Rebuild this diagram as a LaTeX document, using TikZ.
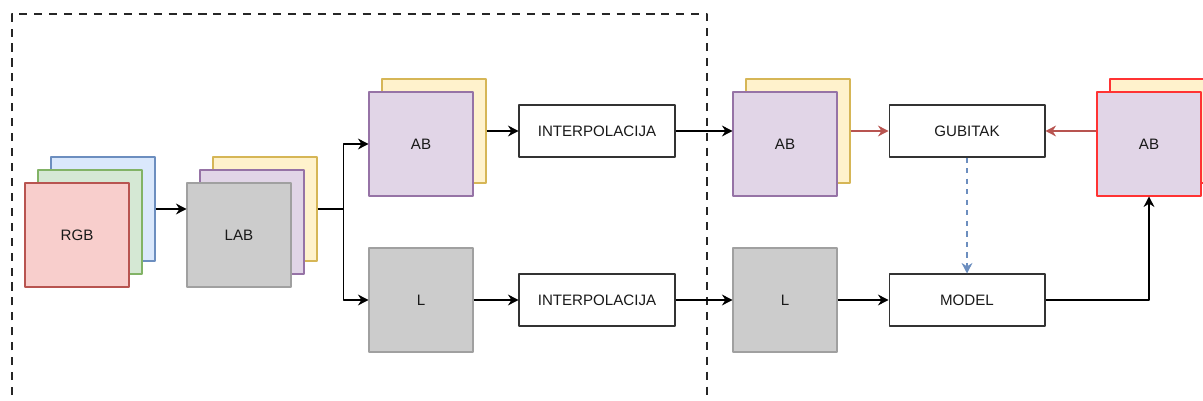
\documentclass[tikz,border=0pt]{standalone}
\usepackage{fontspec}
\setmainfont{Liberation Sans}
\usetikzlibrary{arrows.meta}
\definecolor{bluefill}{HTML}{DAE8FC}   \definecolor{bluedraw}{HTML}{6C8EBF}
\definecolor{greenfill}{HTML}{D5E8D4}  \definecolor{greendraw}{HTML}{82B366}
\definecolor{redfill}{HTML}{F8CECC}    \definecolor{reddraw}{HTML}{B85450}
\definecolor{yellowfill}{HTML}{FFF2CC} \definecolor{yellowdraw}{HTML}{D6B656}
\definecolor{purplefill}{HTML}{E1D5E7} \definecolor{purpledraw}{HTML}{9673A6}
\definecolor{grayfill}{HTML}{CCCCCC}   \definecolor{graydraw}{HTML}{A0A0A0}
\definecolor{brightred}{HTML}{FF3333}
\begin{document}
\begin{tikzpicture}[x=0.02cm,y=-0.02cm,>={Stealth[length=6pt,width=6.2pt,inset=2pt]},
	font=\fontsize{8.6}{10}\selectfont, line join=round, line width=0.6pt,
	sq/.style={draw, minimum width=2.08cm, minimum height=2.08cm, inner sep=0pt, text=black!90},
	blk/.style={draw=black!80, fill=white, minimum width=3.12cm, minimum height=1.04cm, inner sep=0pt, text=black!90},
	yel/.style={sq, fill=yellowfill, draw=yellowdraw},
	pur/.style={sq, fill=purplefill, draw=purpledraw},
	gry/.style={sq, fill=grayfill, draw=graydraw}]
	\useasboundingbox (0,0) rectangle (1203,401);
	% dashed frame
	\draw[line width=1.5pt, black!85, dash pattern=on 4.6pt off 3.9pt] (12,410)--(12,14)--(707,14)--(707,410);
	% RGB
	\node[sq, fill=bluefill, draw=bluedraw] (rgbb) at (103,209) {};
	\node[sq, fill=greenfill, draw=greendraw] (rgbg) at (90,222) {};
	\node[sq, fill=redfill, draw=reddraw] (rgb) at (77,235) {RGB};
	% LAB
	\node[yel] (laby) at (265,209) {};
	\node[pur] (labp) at (252,222) {};
	\node[gry] (lab) at (239,235) {LAB};
	% AB and L
	\node[yel] (aby) at (434,131) {};
	\node[pur] (ab) at (421,144) {AB};
	\node[gry] (l) at (421,300) {L};
	\node[blk] (intab) at (597,131) {INTERPOLACIJA};
	\node[blk] (intl) at (597,300) {INTERPOLACIJA};
	\node[yel] (abiy) at (798,131) {};
	\node[pur] (abi) at (785,144) {AB};
	\node[gry] (li) at (785,300) {L};
	\node[blk] (gub) at (967,131) {GUBITAK};
	\node[blk] (model) at (967,300) {MODEL};
	\node[yel, draw=brightred] (abpy) at (1162,131) {};
	\node[pur, draw=brightred] (abp) at (1149,144) {AB};
	% connectors
	\draw[->] (rgbb.east) -- (lab.west |- rgbb.east);
	\draw (laby.east) -- ++(26,0) coordinate (split);
	\draw[->] (split) |- (ab.west);
	\draw[->] (split) |- (l.west);
	\draw[->] (aby.east) -- (intab.west);
	\draw[->] (l) -- (intl);
	\draw[->] (intab.east) -- (abi.west |- intab.east);
	\draw[->] (intl) -- (li);
	\draw[->, reddraw] (abiy.east) -- (gub.west);
	\draw[->] (li) -- (model);
	\draw[->, bluedraw, dashed] (gub) -- (model);
	\draw[->] (model.east) -| (abp.south);
	\draw[->, reddraw] (abp.west |- gub.east) -- (gub.east);
\end{tikzpicture}
\end{document}
